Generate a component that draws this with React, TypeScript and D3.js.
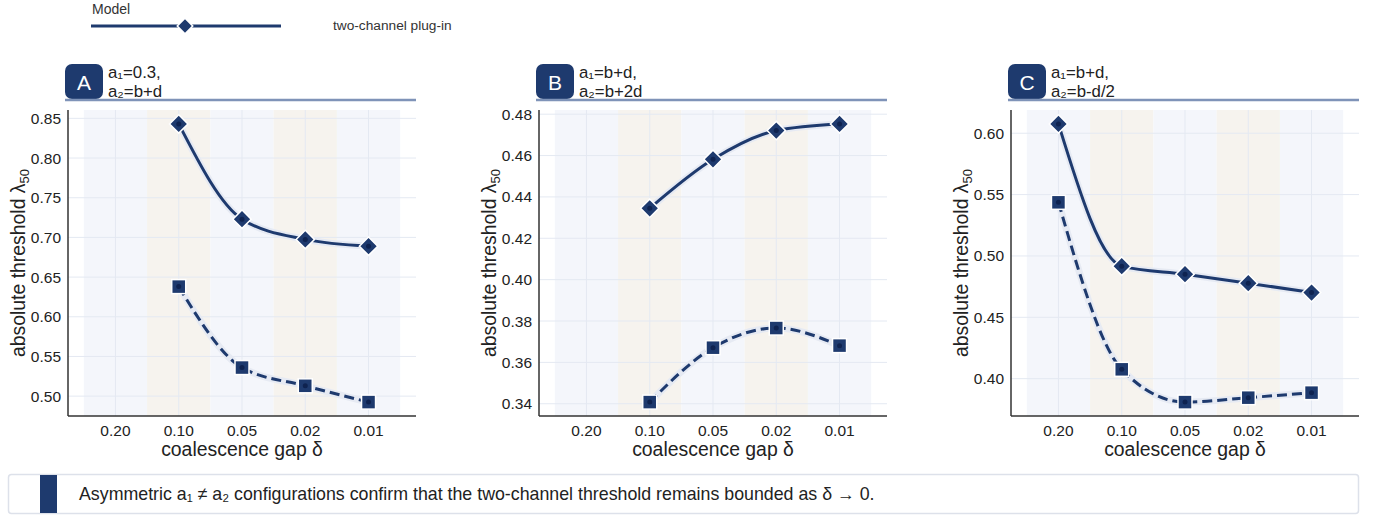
import React from "react";
import * as d3 from "d3";

const categories = ["0.20", "0.10", "0.05", "0.02", "0.01"];
const panelLetters = ["A", "B", "C"];
const panelLine1 = ["a\u2081=0.3,", "a\u2081=b+d,", "a\u2081=b+d,"];
const panelLine2 = ["a\u2082=b+d", "a\u2082=b+2d", "a\u2082=b-d/2"];

const modelA: (number | null)[] = [null, 0.843, 0.723, 0.6975, 0.689];
const pluginA: (number | null)[] = [null, 0.638, 0.536, 0.513, 0.4925];
const modelB: (number | null)[] = [null, 0.4345, 0.4582, 0.4721, 0.4753];
const pluginB: (number | null)[] = [null, 0.3408, 0.3671, 0.3766, 0.3681];
const modelC: (number | null)[] = [0.6076, 0.4917, 0.4851, 0.4778, 0.4702];
const pluginC: (number | null)[] = [0.5437, 0.4076, 0.3809, 0.3845, 0.3886];

const ticksA = [0.5, 0.55, 0.6, 0.65, 0.7, 0.75, 0.8, 0.85];
const ticksB = [0.34, 0.36, 0.38, 0.4, 0.42, 0.44, 0.46, 0.48];
const ticksC = [0.4, 0.45, 0.5, 0.55, 0.6];

const modelSeries = [modelA, modelB, modelC];
const pluginSeries = [pluginA, pluginB, pluginC];
const tickSets = [ticksA, ticksB, ticksC];

const legendTitle = "Model";
const legendLabel = "two-channel plug-in";
const footerText = "Asymmetric a\u2081 \u2260 a\u2082 configurations confirm that the two-channel threshold remains bounded as \u03b4 \u2192 0.";

const FONT = "'Liberation Sans', Arial, Helvetica, sans-serif";
const NAVY = "#1e3a6e";
const DOT = "#0f2350";
const PLOT_TOP = 110;
const PLOT_BOTTOM = 416;
const PLOT_W = 348;
const PLOT_LEFTS = [68, 539, 1011];

function Panel({ idx }: { idx: number }) {
  const left = PLOT_LEFTS[idx];
  const right = left + PLOT_W;
  const model = modelSeries[idx];
  const plugin = pluginSeries[idx];
  const all = [...model, ...plugin].filter((v) => v != null) as number[];
  const mn = d3.min(all)!;
  const mx = d3.max(all)!;
  const pad = (mx - mn) * 0.05;
  const y = d3.scaleLinear().domain([mn - pad, mx + pad]).range([PLOT_BOTTOM, PLOT_TOP]);
  const x = d3.scaleLinear().domain([-0.75, categories.length - 0.25]).range([left, right]);
  const yTicks = tickSets[idx];
  const fmt = d3.format(".2f");

  const pts = (arr: (number | null)[]) =>
    arr.map((v, i) => (v == null ? null : ([x(i), y(v)] as [number, number]))).filter((p) => p != null) as [number, number][];
  const line = d3.line().curve(d3.curveMonotoneX);
  const mPts = pts(model);
  const pPts = pts(plugin);

  return (
    <g>
      {/* header */}
      <rect x={left - 3} y={64} width={38} height={35} rx={7} fill={NAVY} />
      <text x={left + 16} y={89.5} fill="#fff" fontSize={21} textAnchor="middle" fontFamily={FONT}>
        {panelLetters[idx]}
      </text>
      <text x={left + 40} y={77.5} fontSize={16.8} fill="#222" fontFamily={FONT}>
        {panelLine1[idx]}
      </text>
      <text x={left + 40} y={96.5} fontSize={16.8} fill="#222" fontFamily={FONT}>
        {panelLine2[idx]}
      </text>
      <line x1={left - 3} x2={right} y1={100} y2={100} stroke="#7f93b8" strokeWidth={2.5} />

      {/* bands */}
      {categories.map((c, i) => (
        <rect
          key={c}
          x={x(i - 0.5)}
          y={PLOT_TOP}
          width={x(i + 0.5) - x(i - 0.5)}
          height={PLOT_BOTTOM - PLOT_TOP}
          fill={i % 2 === 1 ? "#f6f3ee" : "#f4f6fb"}
        />
      ))}
      {/* grid */}
      {yTicks.map((t) => (
        <line key={"h" + t} x1={left} x2={right} y1={y(t)} y2={y(t)} stroke="#e4e9f2" strokeWidth={1} />
      ))}
      {categories.map((c, i) => (
        <line key={"v" + c} x1={x(i)} x2={x(i)} y1={PLOT_TOP} y2={PLOT_BOTTOM} stroke="#e4e9f2" strokeWidth={1} />
      ))}

      {/* axes */}
      <line x1={left} x2={left} y1={PLOT_TOP} y2={PLOT_BOTTOM} stroke="#333" strokeWidth={1.5} />
      <line x1={left} x2={right} y1={PLOT_BOTTOM} y2={PLOT_BOTTOM} stroke="#333" strokeWidth={1.5} />
      {yTicks.map((t) => (
        <text key={"yt" + t} x={left - 7} y={y(t) + 5.5} fontSize={15.5} textAnchor="end" fill="#222" fontFamily={FONT}>
          {fmt(t)}
        </text>
      ))}
      {categories.map((c, i) => (
        <text key={"xt" + c} x={x(i)} y={436} fontSize={15.5} textAnchor="middle" fill="#222" fontFamily={FONT}>
          {c}
        </text>
      ))}
      <text x={(left + right) / 2} y={456} fontSize={19.4} textAnchor="middle" fill="#222" fontFamily={FONT}>
        coalescence gap δ
      </text>
      <text
        transform={`translate(${left - 43},${(PLOT_TOP + PLOT_BOTTOM) / 2}) rotate(-90)`}
        fontSize={19.4}
        textAnchor="middle"
        fill="#222"
        fontFamily={FONT}
      >
        absolute threshold λ<tspan fontSize={13} dy={4}>50</tspan>
      </text>

      {/* lines */}
      <path d={line(mPts) || ""} fill="none" stroke="#e6eaf3" strokeWidth={7} strokeLinecap="round" />
      <path d={line(mPts) || ""} fill="none" stroke={NAVY} strokeWidth={3} />
      <path d={line(pPts) || ""} fill="none" stroke="#e6eaf3" strokeWidth={7} strokeLinecap="round" />
      <path d={line(pPts) || ""} fill="none" stroke={NAVY} strokeWidth={3} strokeDasharray="10,5" />

      {/* markers */}
      {mPts.map(([px, py], i) => (
        <g key={"m" + i} transform={`translate(${px},${py})`}>
          <rect x={-6.5} y={-6.5} width={13} height={13} transform="rotate(45)" fill={NAVY} stroke="#fff" strokeWidth={1.5} />
          <circle r={2.5} fill={DOT} />
        </g>
      ))}
      {pPts.map(([px, py], i) => (
        <g key={"p" + i} transform={`translate(${px},${py})`}>
          <rect x={-7} y={-7} width={14} height={14} fill={NAVY} stroke="#fff" strokeWidth={1.5} />
          <circle r={2.5} fill={DOT} />
        </g>
      ))}
    </g>
  );
}

export default function App() {
  return (
    <svg
      width={1378}
      height={519}
      style={{ position: "absolute", left: 0, top: 0, background: "#fff" }}
      fontFamily={FONT}
    >
      <rect width={1378} height={519} fill="#fff" />
      {/* legend */}
      <text x={92} y={14} fontSize={14} fill="#333" fontFamily={FONT}>
        {legendTitle}
      </text>
      <line x1={91} x2={281} y1={26} y2={26} stroke={NAVY} strokeWidth={3} />
      <g transform="translate(185,26)">
        <rect x={-5.5} y={-5.5} width={11} height={11} transform="rotate(45)" fill={NAVY} stroke="#fff" strokeWidth={1.5} />
      </g>
      <text x={333} y={30} fontSize={13.7} fill="#333" fontFamily={FONT}>
        {legendLabel}
      </text>

      {panelLetters.map((p, i) => (
        <Panel key={p} idx={i} />
      ))}

      {/* footer */}
      <rect x={8.5} y={474.5} width={1350} height={39} rx={3} fill="#fff" stroke="#dde1ea" strokeWidth={1.5} />
      <rect x={40} y={475} width={17} height={38} fill={NAVY} />
      <text x={79} y={500} fontSize={17.8} fill="#222" fontFamily={FONT}>
        {footerText}
      </text>
    </svg>
  );
}
